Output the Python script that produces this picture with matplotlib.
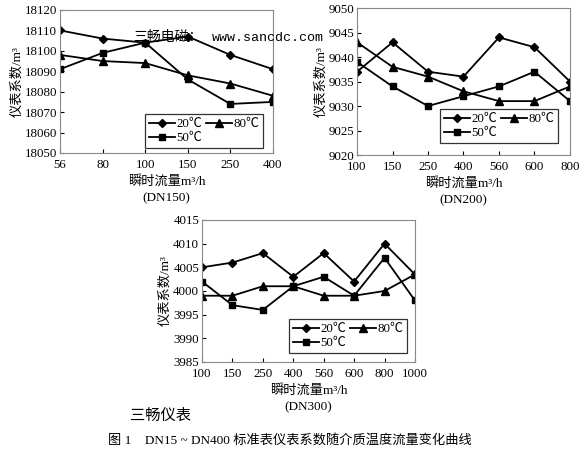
import matplotlib
matplotlib.use('Agg')
import matplotlib.pyplot as plt

plt.rcParams['font.family'] = ['Liberation Serif', 'Noto Sans CJK SC', 'DejaVu Sans']

labels = ['20℃', '50℃', '80℃']

x_dn150 = ['56', '80', '100', '150', '250', '400']
dn150_20 = [18110, 18106, 18104, 18107, 18098, 18091]
dn150_50 = [18091, 18099, 18104, 18086, 18074, 18075]
dn150_80 = [18098, 18095, 18094, 18088, 18084, 18078]

x_dn200 = ['100', '150', '250', '400', '560', '600', '800']
dn200_20 = [9037, 9043, 9037, 9036, 9044, 9042, 9035]
dn200_50 = [9039, 9034, 9030, 9032, 9034, 9037, 9031]
dn200_80 = [9043, 9038, 9036, 9033, 9031, 9031, 9034]

x_dn300 = ['100', '150', '250', '400', '560', '600', '800', '1000']
dn300_20 = [4005, 4006, 4008, 4003, 4008, 4002, 4010, 4003.5]
dn300_50 = [4002, 3997, 3996, 4001, 4003, 3999, 4007, 3998]
dn300_80 = [3999, 3999, 4001, 4001, 3999, 3999, 4000, 4003.5]

markers = ['D', 's', '^']
msizes = [4.5, 5, 5.5]


def panel(ax, xl, series, ylim, ystep, name, gap):
    pos = list(range(len(xl)))
    for s, lab, m, ms in zip(series, labels, markers, msizes):
        ax.plot(pos, s, color='black', marker=m, markersize=ms, lw=1.3, label=lab)
    ax.set_xlim(0, len(xl) - 1)
    ax.set_xticks(pos)
    ax.set_xticklabels(xl)
    ax.set_ylim(*ylim)
    ax.set_yticks(range(ylim[0], ylim[1] + 1, ystep))
    ax.tick_params(direction='in', length=3, labelsize=9.3, colors='black', pad=2)
    ax.tick_params(axis='x', pad=4)
    for sp in ax.spines.values():
        sp.set_color('#888888')
        sp.set_linewidth(0.8)
    ax.set_xlabel('瞬时流量m³/h\n(' + name + ')', fontsize=9.5, labelpad=3,
                  linespacing=1.55)
    ax.set_ylabel('仪表系数/m³', fontsize=9.5, labelpad=1)
    w = ax.bbox.width
    h = ax.bbox.height
    leg = ax.legend(loc='lower right', bbox_to_anchor=(1 - gap[0] / w, gap[1] / h),
                    borderaxespad=0, ncol=2, fontsize=9.3, frameon=True,
                    fancybox=False, edgecolor='black', handlelength=2.0,
                    handletextpad=0.1, columnspacing=0.3, labelspacing=0.15,
                    borderpad=0.3)
    leg.get_frame().set_linewidth(0.9)


fig = plt.figure(figsize=(5.85, 4.53), dpi=100)
ax1 = fig.add_axes([0.1026, 0.6623, 0.364, 0.3157])
ax2 = fig.add_axes([0.6103, 0.6578, 0.364, 0.3245])
ax3 = fig.add_axes([0.3453, 0.2009, 0.364, 0.3135])

panel(ax1, x_dn150, [dn150_20, dn150_50, dn150_80], (18050, 18120), 10, 'DN150', (10, 5))
panel(ax2, x_dn200, [dn200_20, dn200_50, dn200_80], (9020, 9050), 5, 'DN200', (12, 12))
panel(ax3, x_dn300, [dn300_20, dn300_50, dn300_80], (3985, 4015), 5, 'DN300', (8, 9))

fig.text(133 / 585, 1 - 37 / 453, '三畅电磁：', fontsize=10,
         family=['Noto Sans CJK SC'], va='center', ha='left')
fig.text(212 / 585, 1 - 38 / 453, 'www.sancdc.com', fontsize=9.6,
         family=['Liberation Mono'], va='center', ha='left')
fig.text(130 / 585, 1 - 415 / 453, '三畅仪表', fontsize=11,
         family=['Noto Sans CJK SC'], va='center', ha='left')
fig.text(290 / 585, 1 - 440 / 453,
         '图 1    DN15 ~ DN400 标准表仪表系数随介质温度流量变化曲线',
         fontsize=9.5, va='center', ha='center')

fig.savefig('out.png', dpi=100)
